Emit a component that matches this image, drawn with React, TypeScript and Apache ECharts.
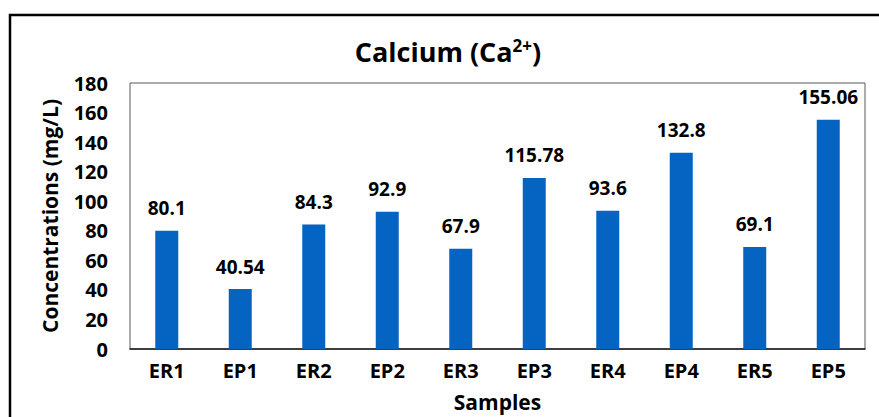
import React, { useEffect, useRef } from "react";
import * as echarts from "echarts";

const categories = ["ER1", "EP1", "ER2", "EP2", "ER3", "EP3", "ER4", "EP4", "ER5", "EP5"];
const values = [80.1, 40.54, 84.3, 92.9, 67.9, 115.78, 93.6, 132.8, 69.1, 155.06];
const yMin = 0;
const yMax = 180;
const yInterval = 20;

const FONT = "'Open Sans', 'Noto Sans', sans-serif";

export default function App() {
  const ref = useRef<HTMLDivElement>(null);
  useEffect(() => {
    document.body.style.margin = "0";
    const chart = echarts.init(ref.current!, null, { renderer: "svg" });
    chart.setOption({
      animation: false,
      backgroundColor: "#ffffff",
      textStyle: { fontFamily: FONT },
      title: {
        text: "{a|Calcium (Ca}{s|2+}{a|)}",
        left: 443,
        textAlign: "center",
        top: 28,
        textStyle: {
          rich: {
            a: { fontSize: 27, fontWeight: "bold", color: "#000", fontFamily: FONT, lineHeight: 36 },
            s: { fontSize: 17, fontWeight: "bold", color: "#000", fontFamily: FONT, lineHeight: 36, padding: [0, 0, 12, 0] },
          },
        },
      },
      graphic: [
        {
          type: "rect",
          shape: { x: 10, y: 15, width: 900, height: 500 },
          style: { fill: "none", stroke: "#000", lineWidth: 2.5 },
          silent: true,
        },
      ],
      grid: {
        left: 130,
        top: 83,
        right: 14,
        bottom: 66,
        show: true,
        borderColor: "#595959",
        borderWidth: 1,
      },
      xAxis: {
        type: "category",
        data: categories,
        name: "Samples",
        nameLocation: "middle",
        nameGap: 42,
        nameTextStyle: { fontSize: 21, fontWeight: "bold", color: "#000", fontFamily: FONT },
        axisLine: { show: true, lineStyle: { color: "#1a1a1a", width: 1.5 } },
        axisTick: { show: false },
        axisLabel: { fontSize: 20, fontWeight: "bold", color: "#000", margin: 11, fontFamily: FONT },
      },
      yAxis: {
        type: "value",
        min: yMin,
        max: yMax,
        interval: yInterval,
        name: "Concentrations (mg/L)",
        nameLocation: "middle",
        nameGap: 70,
        nameTextStyle: { fontSize: 21, fontWeight: "bold", color: "#000", fontFamily: FONT },
        axisLine: { show: false },
        axisTick: { show: false },
        splitLine: { show: false },
        axisLabel: { fontSize: 20, fontWeight: "bold", color: "#000", margin: 22, fontFamily: FONT },
      },
      series: [
        {
          type: "bar",
          data: values,
          barWidth: 23,
          itemStyle: { color: "#0563C1" },
          label: {
            show: true,
            position: "top",
            distance: 13,
            fontSize: 19,
            fontWeight: "bold",
            color: "#000",
            fontFamily: FONT,
          },
        },
      ],
    });
    return () => chart.dispose();
  }, []);
  return <div ref={ref} style={{ position: "fixed", left: 0, top: 0, width: 879, height: 417 }} />;
}
